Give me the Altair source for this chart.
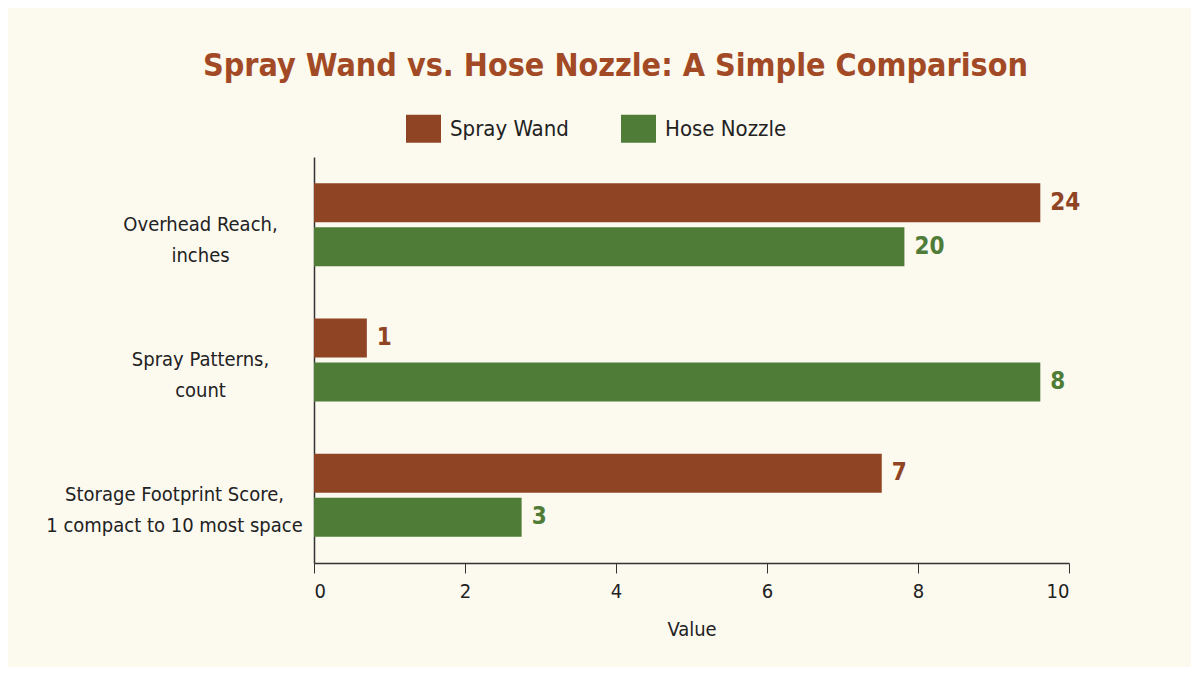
import altair as alt
import pandas as pd

categories = [
    "Overhead Reach, inches",
    "Spray Patterns, count",
    "Storage Footprint Score, 1 compact to 10 most space",
]
tools = ["Spray Wand", "Hose Nozzle"]
# bar lengths as drawn on the 0-10 axis
spray_wand_bar = [9.62, 0.70, 7.52]
hose_nozzle_bar = [7.82, 9.62, 2.75]
# value labels printed beside the bars
spray_wand_label = [24, 1, 7]
hose_nozzle_label = [20, 8, 3]

colors = ["#8f4524", "#4f7c37"]
FONT = "DejaVu Sans Condensed, DejaVu Sans, sans-serif"

rows = []
for i, c in enumerate(categories):
    rows.append({"category": c, "tool": tools[0], "bar": spray_wand_bar[i], "label": spray_wand_label[i]})
    rows.append({"category": c, "tool": tools[1], "bar": hose_nozzle_bar[i], "label": hose_nozzle_label[i]})
df = pd.DataFrame(rows)

label_expr = "[split(datum.label, ', ')[0] + ',', split(datum.label, ', ')[1]]"

y_enc = alt.Y(
    "category:N",
    sort=categories,
    title=None,
    scale=alt.Scale(paddingInner=0.387, paddingOuter=0.1935),
    axis=alt.Axis(
        labelExpr=label_expr,
        labelAlign="center",
        labelBaseline="middle",
        labelFont=FONT,
        labelFontSize=20,
        labelColor="#222222",
        labelLineHeight=31,
        labelPadding={"condition": {"test": "indexof(datum.value, 'Storage') == 0", "value": 140}, "value": 114},
        ticks=False,
        domainColor="#333333",
        domainWidth=1.5,
        labelLimit=400,
    ),
)
yoff = alt.YOffset("tool:N", sort=tools, scale=alt.Scale(paddingInner=0.114, paddingOuter=0))

x_enc = alt.X(
    "bar:Q",
    title="Value",
    scale=alt.Scale(domain=[0, 10], nice=False),
    axis=alt.Axis(
        values=[0, 2, 4, 6, 8, 10],
        format="d",
        grid=False,
        tickSize=10,
        tickColor="#333333",
        domainColor="#333333",
        domainWidth=1.5,
        labelFont=FONT,
        labelFontSize=20,
        labelColor="#222222",
        labelPadding=8,
        titleFont=FONT,
        titleFontSize=20,
        titleFontWeight="normal",
        titleColor="#222222",
        titlePadding=18,
    ),
)

color_scale = alt.Scale(domain=tools, range=colors)

bars = alt.Chart(df).mark_bar().encode(
    y=y_enc,
    yOffset=yoff,
    x=x_enc,
    color=alt.Color(
        "tool:N",
        scale=color_scale,
        legend=alt.Legend(
            title=None,
            orient="none",
            direction="horizontal",
            legendX=92,
            legendY=-46,
            symbolType="M-1,-0.8H1V0.8H-1Z",
            symbolSize=1225,
            symbolStrokeWidth=0,
            symbolOpacity=1,
            labelFont=FONT,
            labelFontSize=22,
            labelColor="#222222",
            labelOffset=9,
            columnPadding=52,
        ),
    ),
)

texts = alt.Chart(df).mark_text(
    align="left", baseline="middle", dx=10, font=FONT, fontSize=24, fontWeight="bold"
).encode(
    y=alt.Y("category:N", sort=categories),
    yOffset=yoff,
    x=alt.X("bar:Q"),
    text=alt.Text("label:Q"),
    color=alt.Color("tool:N", scale=color_scale, legend=None),
)

chart = (
    alt.layer(bars, texts)
    .properties(
        width=755,
        height=406,
        autosize=alt.AutoSizeParams(type="none"),
        padding={"left": 306, "top": 149, "right": 122, "bottom": 104},
        background="#fcf9ef",
        title=alt.TitleParams(
            "Spray Wand vs. Hose Nozzle: A Simple Comparison",
            font=FONT,
            fontSize=32,
            fontWeight="bold",
            color="#a24a25",
            anchor="middle",
            frame="group",
            dx=-76,
            offset=28,
        ),
    )
    .configure_view(stroke=None)
)

chart.save("out.html", embed_options={"renderer": "svg", "actions": False})
